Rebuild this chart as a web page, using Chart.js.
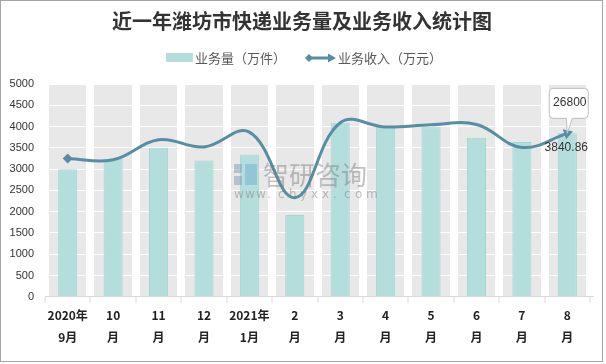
<!DOCTYPE html>
<html>
<head>
<meta charset="utf-8">
<script src="https://cdn.jsdelivr.net/npm/chart.js@4.4.0/dist/chart.umd.min.js"></script>
<style>
  html, body { margin: 0; padding: 0; background: #fff; }
  #wrap { width: 606px; height: 364px; position: relative; }
</style>
</head>
<body>
<div id="wrap"><canvas id="chart" width="606" height="364"></canvas></div>
<script>
// data
const months = [['2020年', '9月'], ['10', '月'], ['11', '月'], ['12', '月'], ['2021年', '1月'], ['2', '月'],
                ['3', '月'], ['4', '月'], ['5', '月'], ['6', '月'], ['7', '月'], ['8', '月']];
const volume = [2995, 3245, 3505, 3205, 3345, 1920, 4090, 3975, 3985, 3740, 3635, 3840.86];   // 业务量（万件）
const revenue = [3250, 3220, 3690, 3520, 3870, 2330, 4090, 3990, 4040, 4050, 3510, 3840.86];  // 业务收入（万元）
const yTicks = [0, 500, 1000, 1500, 2000, 2500, 3000, 3500, 4000, 4500, 5000];
const lastCallout = '26800';

const barColor = '#b3dedb';
const lineColor = '#568ea6';
const cjk = '"Noto Sans CJK SC", "Microsoft YaHei", sans-serif';

// grey plot background, frame, title, legend, watermark, callout
const decorations = {
    id: 'decorations',
    beforeDraw(chart) {
        const { ctx, chartArea: a } = chart;
        ctx.save();
        ctx.fillStyle = '#e8e8e8';
        ctx.fillRect(a.left, a.top, a.right - a.left, a.bottom - a.top);
        ctx.restore();
    },
    afterDatasetsDraw(chart) {
        const ctx = chart.ctx;
        // watermark
        ctx.save();
        ctx.globalAlpha = 0.45;
        ctx.fillStyle = '#7a8fb0';
        ctx.fillRect(234, 164, 8, 9);
        ctx.fillRect(234, 176, 8, 9);
        ctx.fillStyle = '#6aa8d0';
        ctx.fillRect(245, 164, 12, 21);
        ctx.fillStyle = '#777';
        ctx.font = '26px ' + cjk;
        ctx.textBaseline = 'middle';
        ctx.fillText('智研咨询', 263, 175);
        ctx.font = '12px "DejaVu Sans", sans-serif';
        const url = 'www.chyxx.com';
        for (let i = 0; i < url.length; i++) ctx.fillText(url[i], 234 + i * 11, 195);
        ctx.restore();
    },
    afterDraw(chart) {
        const ctx = chart.ctx;
        ctx.save();
        // frame
        ctx.strokeStyle = '#a6a6a6';
        ctx.lineWidth = 1;
        ctx.strokeRect(0.5, 0.5, 602, 361);
        // title
        ctx.fillStyle = '#333';
        ctx.font = 'bold 20px ' + cjk;
        ctx.textAlign = 'center';
        ctx.textBaseline = 'middle';
        ctx.fillText('近一年潍坊市快递业务量及业务收入统计图', 302, 21);
        // legend
        ctx.font = '13px ' + cjk;
        ctx.textAlign = 'left';
        ctx.fillStyle = barColor;
        ctx.fillRect(166, 53, 27, 9);
        ctx.fillStyle = '#595959';
        ctx.fillText('业务量（万件）', 195, 58);
        ctx.strokeStyle = lineColor;
        ctx.lineWidth = 3;
        ctx.beginPath(); ctx.moveTo(308, 58); ctx.lineTo(330, 58); ctx.stroke();
        ctx.fillStyle = lineColor;
        ctx.beginPath(); ctx.moveTo(305, 58); ctx.lineTo(309, 54); ctx.lineTo(313, 58); ctx.lineTo(309, 62); ctx.closePath(); ctx.fill();
        ctx.beginPath(); ctx.moveTo(336, 58); ctx.lineTo(328, 53.5); ctx.lineTo(328, 62.5); ctx.closePath(); ctx.fill();
        ctx.fillStyle = '#595959';
        ctx.fillText('业务收入（万元）', 338, 58);

        // callout and value label on the last point
        const meta = chart.getDatasetMeta(1);
        const pt = meta.data[meta.data.length - 1];
        const bx = pt.x - 18, by = pt.y - 45, bw = 39, bh = 30;
        ctx.fillStyle = '#fff';
        ctx.strokeStyle = '#bfbfbf';
        ctx.lineWidth = 1;
        ctx.beginPath();
        ctx.moveTo(bx + 4, by);
        ctx.lineTo(bx + bw - 4, by);
        ctx.quadraticCurveTo(bx + bw, by, bx + bw, by + 4);
        ctx.lineTo(bx + bw, by + bh - 4);
        ctx.quadraticCurveTo(bx + bw, by + bh, bx + bw - 4, by + bh);
        ctx.lineTo(pt.x + 5, by + bh);
        ctx.lineTo(pt.x, pt.y);
        ctx.lineTo(pt.x - 1, by + bh);
        ctx.lineTo(bx + 4, by + bh);
        ctx.quadraticCurveTo(bx, by + bh, bx, by + bh - 4);
        ctx.lineTo(bx, by + 4);
        ctx.quadraticCurveTo(bx, by, bx + 4, by);
        ctx.closePath();
        ctx.fill();
        ctx.stroke();
        ctx.fillStyle = '#333';
        ctx.font = '12px "Liberation Sans", Arial, sans-serif';
        ctx.textAlign = 'center';
        ctx.fillText(lastCallout, bx + bw / 2 + 1, by + 14);
        ctx.fillText(String(revenue[revenue.length - 1]), pt.x - 1, pt.y + 14);
        ctx.restore();
    }
};

const n = revenue.length;
const pointStyles = revenue.map((v, i) => i === 0 ? 'rectRot' : (i === n - 1 ? 'triangle' : 'circle'));
const pointRadii = revenue.map((v, i) => i === 0 ? 5 : (i === n - 1 ? 6 : 0));
const pointRot = revenue.map((v, i) => i === n - 1 ? 72 : 0);

new Chart(document.getElementById('chart'), {
    data: {
        labels: months,
        datasets: [{
            type: 'bar',
            label: '业务量（万件）',
            data: volume,
            backgroundColor: barColor,
            borderColor: '#a3d6d1',
            borderWidth: 1,
            barPercentage: 0.42,
            categoryPercentage: 1,
            order: 2
        }, {
            type: 'line',
            label: '业务收入（万元）',
            data: revenue,
            borderColor: lineColor,
            backgroundColor: lineColor,
            borderWidth: 3,
            tension: 0.4,
            pointStyle: pointStyles,
            pointRadius: pointRadii,
            pointRotation: pointRot,
            pointBorderWidth: 0,
            order: 1
        }]
    },
    options: {
        responsive: false,
        animation: false,
        events: [],
        layout: { padding: { top: 84, right: 16, left: 0, bottom: 14 } },
        plugins: {
            legend: { display: false },
            title: { display: false },
            tooltip: { enabled: false }
        },
        scales: {
            x: {
                offset: true,
                grid: { offset: true, color: '#fff', lineWidth: 8, tickColor: '#d9d9d9', tickWidth: 1, tickLength: 6, drawOnChartArea: true },
                border: { color: '#d9d9d9', width: 1 },
                ticks: {
                    color: '#222',
                    font: { family: cjk, size: 12, weight: 'bold', lineHeight: 1.8 },
                    maxRotation: 0,
                    autoSkip: false,
                    padding: 2
                }
            },
            y: {
                min: 0,
                max: 5000,
                afterBuildTicks(scale) { scale.ticks = yTicks.map(v => ({ value: v })); },
                afterFit(scale) { scale.width = 45; },
                grid: { color: '#fff', lineWidth: 1, drawTicks: false },
                border: { display: false },
                ticks: {
                    color: '#333',
                    font: { family: '"Liberation Sans", Arial, sans-serif', size: 11 },
                    padding: 11,
                    callback: v => String(v)
                }
            }
        }
    },
    plugins: [decorations]
});
</script>
</body>
</html>
